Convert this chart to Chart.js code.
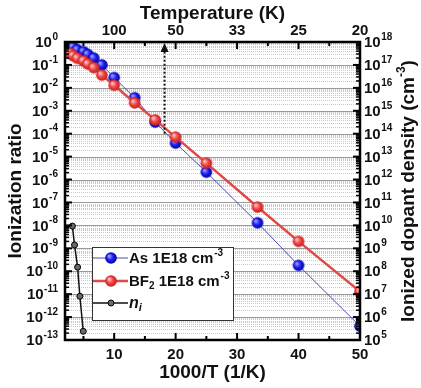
<!DOCTYPE html>
<html>
<head>
<meta charset="utf-8">
<script src="https://cdn.jsdelivr.net/npm/chart.js@4.4.0/dist/chart.umd.min.js"></script>
<style>
  html, body { margin: 0; padding: 0; background: #fff; }
  #wrap { width: 421px; height: 388px; }
</style>
</head>
<body>
<div id="wrap"><canvas id="chart"></canvas></div>
<script>
// ── Data ──────────────────────────────────────────────────────────────────────

const invTAs   = [2.86, 3.33, 4, 5, 5.71, 6.67, 8, 10, 13.33, 16.67, 20, 25, 33.33, 40, 50];
const ratioAs  = [7.4e-1, 6.0e-1, 4.6e-1, 3.8e-1, 2.9e-1, 2.0e-1, 1.0e-1, 2.8e-2, 3.7e-3, 3.2e-4, 3.9e-5, 2.1e-6, 1.3e-8, 1.8e-10, 4.0e-13];

const invTBF2  = [2.86, 3.33, 4, 5, 5.71, 6.67, 8, 10, 13.33, 16.67, 20, 25, 33.33, 40, 50];
const ratioBF2 = [3.2e-1, 2.5e-1, 1.95e-1, 1.5e-1, 1.1e-1, 7.6e-2, 3.6e-2, 1.3e-2, 2.2e-3, 4.0e-4, 7.1e-5, 5.2e-6, 6.3e-8, 2.0e-9, 1.3e-11];

const invTNi   = [3.2, 3.55, 4.05, 4.42, 4.97];
const densNi   = [9.3e9, 1.4e9, 1.5e8, 8.1e6, 2.4e5];

const xTickVals   = [10, 20, 30, 40, 50];
const xMinorVals  = [5, 15, 25, 35, 45];
const tempLabels  = ['100', '50', '33', '25', '20'];
const leftDecades  = [0, -1, -2, -3, -4, -5, -6, -7, -8, -9, -10, -11, -12, -13];
const rightDecades = [18, 17, 16, 15, 14, 13, 12, 11, 10, 9, 8, 7, 6, 5];

const arrowX    = 18.2;
const arrowFrom = 1e-4;
const arrowTo   = 1;

// ── Helpers ───────────────────────────────────────────────────────────────────

const FONT = "'Liberation Sans', Arial, sans-serif";

function ball(r, hi, mid, lo) {
  const s = Math.ceil(r * 2) + 2;
  const c = document.createElement('canvas');
  c.width = s; c.height = s;
  const g = c.getContext('2d');
  const cx = s / 2, cy = s / 2;
  const grad = g.createRadialGradient(cx - r * 0.35, cy - r * 0.35, r * 0.1, cx, cy, r);
  grad.addColorStop(0, hi);
  grad.addColorStop(0.5, mid);
  grad.addColorStop(1, lo);
  g.fillStyle = grad;
  g.beginPath(); g.arc(cx, cy, r, 0, Math.PI * 2); g.fill();
  return c;
}

const blueBall = ball(5.8, '#9a9aff', '#1e1ef0', '#0000a8');
const redBall  = ball(5.8, '#ffc0c0', '#f04444', '#c41c1c');

function drawRuns(ctx, runs, x, y) {
  let cx = x;
  for (const r of runs) {
    ctx.font = `${r.italic ? 'italic ' : ''}bold ${r.size}px ${FONT}`;
    ctx.fillText(r.t, cx, y + (r.dy || 0));
    cx += ctx.measureText(r.t).width + (r.gap || 0);
  }
  return cx - x;
}

function runsWidth(ctx, runs) {
  let w = 0;
  for (const r of runs) {
    ctx.font = `${r.italic ? 'italic ' : ''}bold ${r.size}px ${FONT}`;
    w += ctx.measureText(r.t).width + (r.gap || 0);
  }
  return w;
}

// ── Plugin: grid, frame, inward ticks, y labels, arrow, legend ───────────────

const decor = {
  id: 'decor',
  beforeDatasetsDraw(chart) {
    const { ctx, chartArea: a, scales } = chart;
    const y = scales.y;
    ctx.save();
    // minor dotted lines
    ctx.strokeStyle = '#c9c9c9';
    ctx.lineWidth = 1;
    ctx.setLineDash([1, 1]);
    for (const d of leftDecades) {
      for (let k = 2; k <= 9; k++) {
        const v = k * Math.pow(10, d - 1);
        if (v < y.min || v > y.max) continue;
        const py = Math.round(y.getPixelForValue(v)) + 0.5;
        ctx.beginPath(); ctx.moveTo(a.left, py); ctx.lineTo(a.right, py); ctx.stroke();
      }
    }
    // major lines
    ctx.setLineDash([]);
    ctx.strokeStyle = '#9a9a9a';
    for (const d of leftDecades) {
      const py = Math.round(y.getPixelForValue(Math.pow(10, d))) + 0.5;
      ctx.beginPath(); ctx.moveTo(a.left, py); ctx.lineTo(a.right, py); ctx.stroke();
    }
    ctx.restore();
  },
  afterDatasetsDraw(chart) {
    const { ctx, chartArea: a, scales } = chart;
    const { x, y, y2 } = scales;
    ctx.save();

    // arrow
    const ax = x.getPixelForValue(arrowX);
    const ay0 = y.getPixelForValue(arrowFrom);
    const ay1 = y.getPixelForValue(arrowTo);
    ctx.strokeStyle = '#111';
    ctx.lineWidth = 2;
    ctx.setLineDash([2, 2]);
    ctx.beginPath(); ctx.moveTo(ax, ay0); ctx.lineTo(ax, ay1 + 8); ctx.stroke();
    ctx.setLineDash([]);
    ctx.fillStyle = '#111';
    ctx.beginPath();
    ctx.moveTo(ax, ay1 + 1); ctx.lineTo(ax - 4, ay1 + 10); ctx.lineTo(ax + 4, ay1 + 10);
    ctx.closePath(); ctx.fill();

    // inward ticks
    ctx.strokeStyle = '#000';
    for (const d of leftDecades) {
      for (let k = 1; k <= 9; k++) {
        const v = k * Math.pow(10, d - (k === 1 ? 0 : 1));
        if (v < y.min || v > y.max) continue;
        const py = y.getPixelForValue(v);
        const len = k === 1 ? 7 : 4;
        ctx.lineWidth = k === 1 ? 2 : 1.5;
        ctx.beginPath(); ctx.moveTo(a.left, py); ctx.lineTo(a.left + len, py); ctx.stroke();
      }
    }
    for (const d of rightDecades) {
      for (let k = 1; k <= 9; k++) {
        const v = k * Math.pow(10, d - (k === 1 ? 0 : 1));
        if (v < y2.min || v > y2.max) continue;
        const py = y2.getPixelForValue(v);
        const len = k === 1 ? 7 : 4;
        ctx.lineWidth = k === 1 ? 2 : 1.5;
        ctx.beginPath(); ctx.moveTo(a.right, py); ctx.lineTo(a.right - len, py); ctx.stroke();
      }
    }
    ctx.lineWidth = 2;
    for (const v of xTickVals.concat(xMinorVals)) {
      const px = x.getPixelForValue(v);
      const len = xTickVals.includes(v) ? 7 : 4;
      ctx.beginPath(); ctx.moveTo(px, a.bottom); ctx.lineTo(px, a.bottom - len); ctx.stroke();
      ctx.beginPath(); ctx.moveTo(px, a.top); ctx.lineTo(px, a.top + len); ctx.stroke();
    }

    // frame
    ctx.lineWidth = 2.5;
    ctx.strokeRect(a.left, a.top, a.right - a.left, a.bottom - a.top);

    // y labels
    ctx.fillStyle = '#111';
    ctx.textBaseline = 'middle';
    ctx.textAlign = 'left';
    for (const d of leftDecades) {
      const py = y.getPixelForValue(Math.pow(10, d));
      const runs = [{ t: '10', size: 15, gap: 0.5 }, { t: String(d), size: 10, dy: -6 }];
      const w = runsWidth(ctx, runs);
      drawRuns(ctx, runs, a.left - 7 - w, py + 1);
    }
    for (const d of rightDecades) {
      const py = y2.getPixelForValue(Math.pow(10, d));
      drawRuns(ctx, [{ t: '10', size: 15, gap: 0.5 }, { t: String(d), size: 10, dy: -6 }], a.right + 4, py + 1);
    }

    // right title, reading upward
    const tRuns = [
      { t: 'Ionized dopant density (cm', size: 19 },
      { t: '-3', size: 12, dy: -7 },
      { t: ')', size: 19 },
    ];
    ctx.save();
    ctx.translate(chart.width - 12, (a.top + a.bottom) / 2);
    ctx.rotate(-Math.PI / 2);
    const tw = runsWidth(ctx, tRuns);
    drawRuns(ctx, tRuns, -tw / 2, 0);
    ctx.restore();

    // legend
    const lx = a.left + 27, ly = a.top + 205, lw = 141, lh = 73;
    ctx.fillStyle = '#fff';
    ctx.fillRect(lx, ly, lw, lh);
    ctx.strokeStyle = '#333';
    ctx.lineWidth = 1;
    ctx.strokeRect(lx + 0.5, ly + 0.5, lw, lh);
    const rows = [
      { ds: 0, img: blueBall, runs: [{ t: 'As 1E18 cm', size: 15, gap: 1 }, { t: '-3', size: 10, dy: -6 }] },
      { ds: 1, img: redBall, runs: [{ t: 'BF', size: 15 }, { t: '2', size: 10, dy: 4 }, { t: ' 1E18 cm', size: 15, gap: 1 }, { t: '-3', size: 10, dy: -6 }] },
      { ds: 2, img: null, runs: [{ t: 'n', size: 16, italic: true }, { t: 'i', size: 11, italic: true, dy: 4 }] },
    ];
    const rowY = [ly + 11, ly + 34, ly + 56];
    rows.forEach((r, i) => {
      const ds = chart.data.datasets[r.ds];
      const ry = rowY[i];
      ctx.strokeStyle = ds.borderColor;
      ctx.lineWidth = ds.borderWidth;
      ctx.beginPath(); ctx.moveTo(lx + 1, ry); ctx.lineTo(lx + 36, ry); ctx.stroke();
      if (r.img) {
        ctx.drawImage(r.img, lx + 19 - r.img.width / 2, ry - r.img.height / 2);
      } else {
        ctx.fillStyle = ds.pointBackgroundColor;
        ctx.strokeStyle = ds.pointBorderColor;
        ctx.lineWidth = 1;
        ctx.beginPath(); ctx.arc(lx + 19, ry, 3, 0, Math.PI * 2); ctx.fill(); ctx.stroke();
      }
      ctx.fillStyle = '#111';
      drawRuns(ctx, r.runs, lx + 37, ry + 1);
    });

    ctx.restore();
  },
};

// ── Chart ─────────────────────────────────────────────────────────────────────

const tickFont  = { family: FONT, size: 15, weight: 'bold' };
const titleFont = { family: FONT, size: 19, weight: 'bold' };

new Chart(document.getElementById('chart'), {
  type: 'line',
  data: {
    datasets: [
      {
        label: 'As 1E18 cm-3',
        data: invTAs.map((v, i) => ({ x: v, y: ratioAs[i] })),
        yAxisID: 'y',
        borderColor: '#4a4ab8',
        borderWidth: 1,
        pointStyle: blueBall,
        order: 2,
      },
      {
        label: 'BF2 1E18 cm-3',
        data: invTBF2.map((v, i) => ({ x: v, y: ratioBF2[i] })),
        yAxisID: 'y',
        borderColor: '#e04848',
        borderWidth: 2.5,
        pointStyle: redBall,
        order: 1,
      },
      {
        label: 'ni',
        data: invTNi.map((v, i) => ({ x: v, y: densNi[i] })),
        yAxisID: 'y2',
        borderColor: '#111',
        borderWidth: 1.5,
        pointStyle: 'circle',
        pointRadius: 3,
        pointBackgroundColor: '#6a6a6a',
        pointBorderColor: '#000',
        pointBorderWidth: 1,
        order: 3,
      },
    ],
  },
  options: {
    responsive: true,
    maintainAspectRatio: false,
    animation: false,
    events: [],
    layout: { padding: 0 },
    plugins: { legend: { display: false }, tooltip: { enabled: false } },
    scales: {
      x: {
        type: 'linear', position: 'bottom', min: 2, max: 50,
        grid: { display: false, drawTicks: false },
        border: { display: false },
        afterBuildTicks: (s) => { s.ticks = xTickVals.map((v) => ({ value: v })); },
        afterFit: (s) => { s.height = 48; },
        ticks: { font: tickFont, color: '#111', padding: 6, maxRotation: 0, autoSkip: false },
        title: { display: true, text: '1000/T (1/K)', font: titleFont, color: '#111', padding: { top: 0, bottom: 4 } },
      },
      xTop: {
        type: 'linear', position: 'top', min: 2, max: 50,
        grid: { display: false, drawTicks: false },
        border: { display: false },
        afterBuildTicks: (s) => { s.ticks = xTickVals.map((v) => ({ value: v })); },
        afterFit: (s) => { s.height = 42; },
        ticks: {
          font: tickFont, color: '#111', padding: 2, maxRotation: 0, autoSkip: false,
          callback: (v) => tempLabels[xTickVals.indexOf(v)],
        },
        title: { display: true, text: 'Temperature (K)', font: titleFont, color: '#111', padding: { top: 2, bottom: 0 } },
      },
      y: {
        type: 'logarithmic', position: 'left', min: 1e-13, max: 1,
        grid: { display: false, drawTicks: false },
        border: { display: false },
        ticks: { display: false },
        afterFit: (s) => { s.width = 65; },
        title: { display: true, text: 'Ionization ratio', font: titleFont, color: '#111', padding: { top: 4, bottom: 0 } },
      },
      y2: {
        type: 'logarithmic', position: 'right', min: 1e5, max: 1e18,
        grid: { display: false, drawTicks: false },
        border: { display: false },
        ticks: { display: false },
        afterFit: (s) => { s.width = 61; },
      },
    },
  },
  plugins: [decor],
});
</script>
</body>
</html>
